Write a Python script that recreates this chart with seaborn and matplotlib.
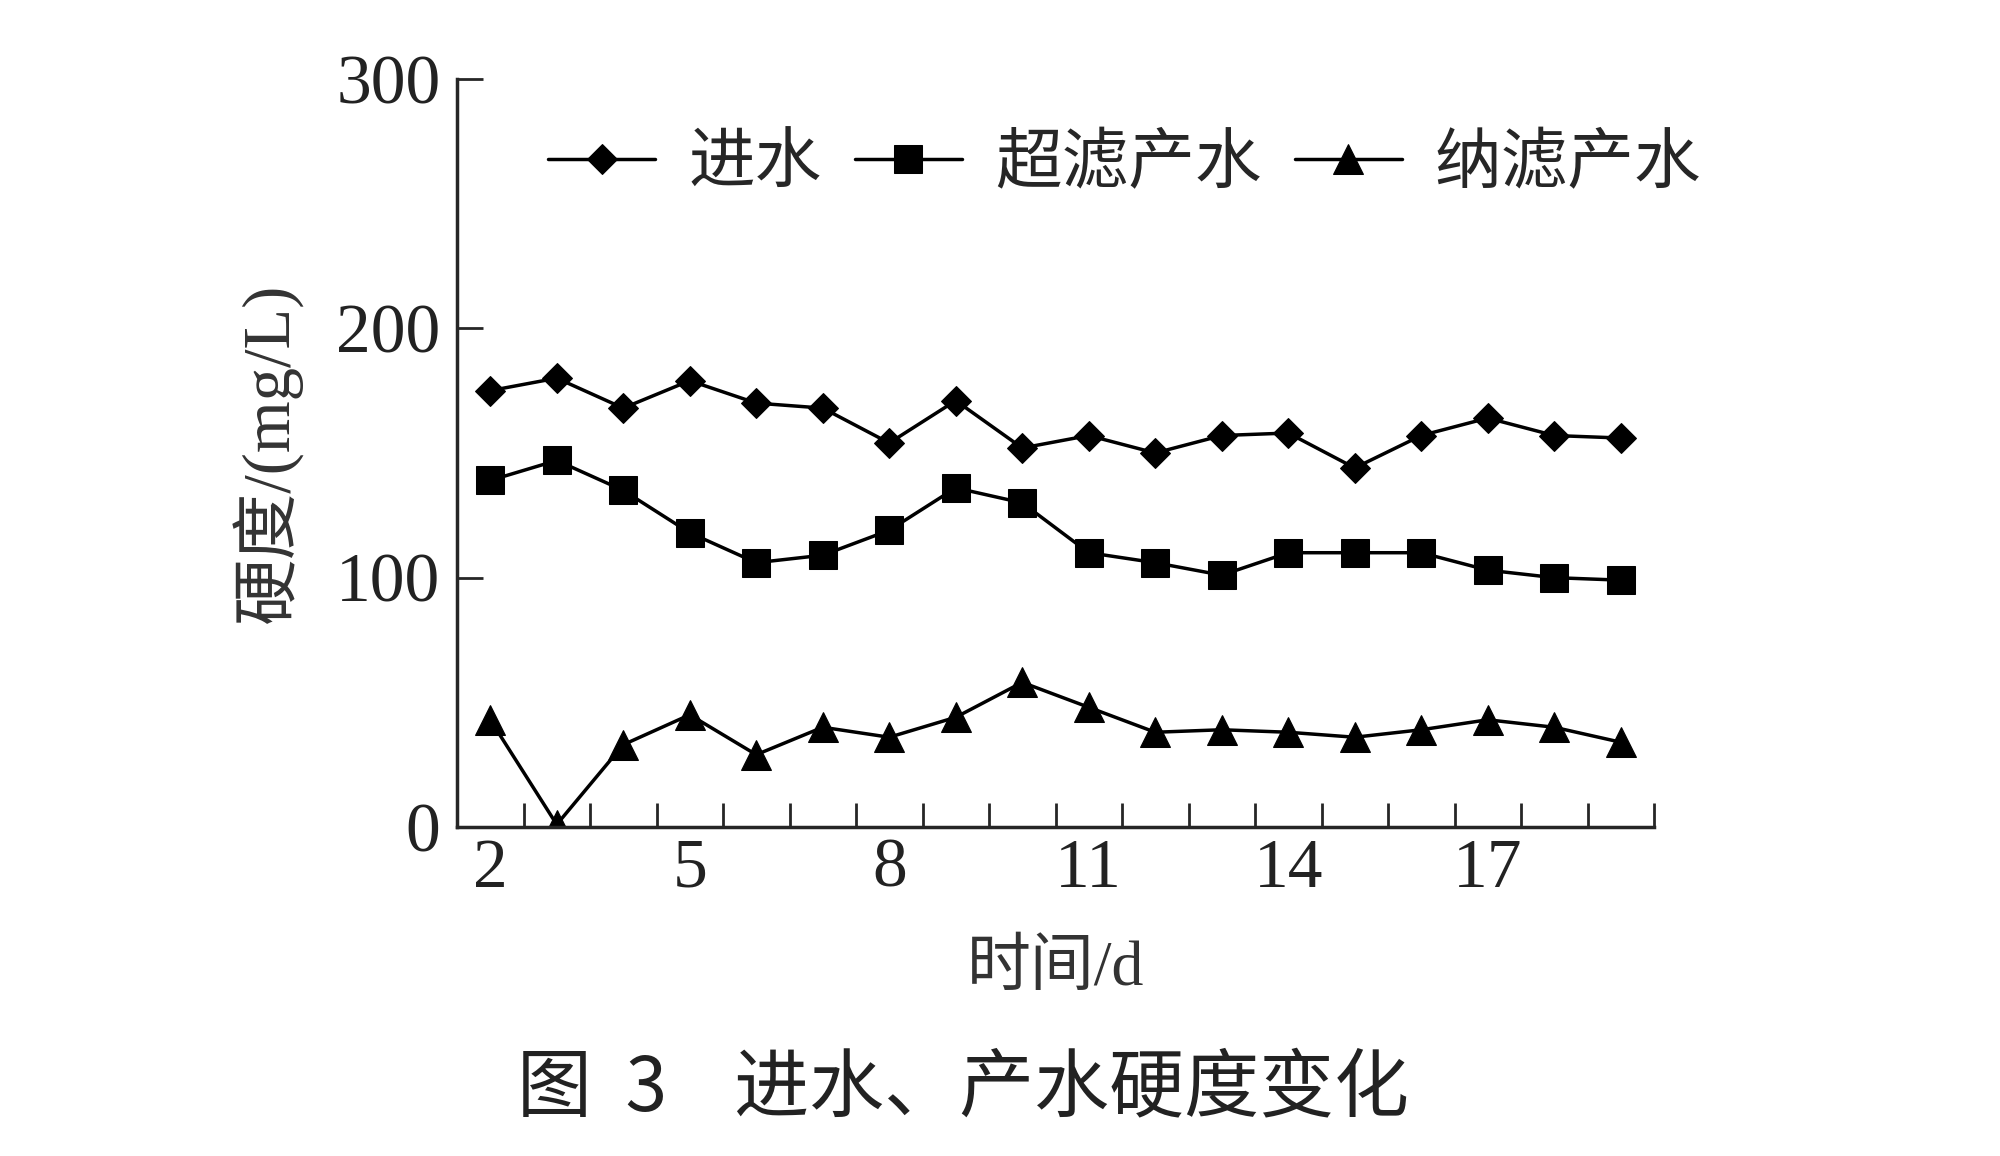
import numpy as np
import pandas as pd
import matplotlib
matplotlib.use("Agg")
import matplotlib.pyplot as plt
import seaborn as sns

# data (hardness, mg/L, per day)
days = list(range(2, 20))
inflow = [175, 180, 168, 179, 170, 168, 154, 171, 152, 157, 150, 157, 158, 144, 157, 164, 157, 156]
uf_out = [139, 147, 135, 118, 106, 109, 119, 136, 130, 110, 106, 101, 110, 110, 110, 103, 100, 99]
nf_out = [43, 1, 33, 45, 29, 40, 36, 44, 58, 48, 38, 39, 38, 36, 39, 43, 40, 34]
series_names = ["进水", "超滤产水", "纳滤产水"]
x_tick_labels = [2, 5, 8, 11, 14, 17]

sns.set_style("ticks")
plt.rcParams["font.family"] = ["Liberation Serif", "Noto Sans CJK SC"]

df = pd.DataFrame({"day": days, series_names[0]: inflow,
                   series_names[1]: uf_out, series_names[2]: nf_out})

fig = plt.figure(figsize=(20, 11.56), dpi=100)
ax = fig.add_axes([0.2285, 0.2846, 0.5985, 0.6471])

markers = {"进水": ("D", 15), "超滤产水": ("s", 20), "纳滤产水": ("^", 21)}
for name in series_names:
    m, ms = markers[name]
    sns.lineplot(data=df, x="day", y=name, ax=ax, color="black", lw=2.5,
                 marker=m, markersize=ms, markeredgecolor="black", label=name)

ax.set_xlim(1.5, 19.5)
ax.set_ylim(0, 300)
ax.set_xticks(x_tick_labels)
ax.set_xticklabels([str(v) for v in x_tick_labels])
ax.set_xticks(np.arange(2.5, 20, 1), minor=True)
ax.tick_params(axis="x", which="major", length=0, labelsize=50, pad=8)
ax.tick_params(axis="x", which="minor", direction="in", length=17, width=2)
ax.set_yticks([0, 100, 200, 300])
ax.tick_params(axis="y", direction="in", length=19, width=2, labelsize=50, pad=12)
for lab in ax.get_xticklabels() + ax.get_yticklabels():
    lab.set_color("#222222")

sns.despine(ax=ax)
for s in ("left", "bottom"):
    ax.spines[s].set_linewidth(2.5)

ax.set_xlabel("时间/d", fontsize=46, labelpad=28, color="#333333")
ax.set_ylabel("硬度/(mg/L)", fontsize=48, labelpad=24, color="#333333")

ax.legend(loc="center", bbox_to_anchor=(0.558, 0.884), ncol=3, frameon=False,
          fontsize=48, handlelength=1.6, columnspacing=0.5, handletextpad=0.5,
          markerscale=1.0)

fig.text(0.4815, 0.058, "图  3    进水、产水硬度变化", ha="center", va="center",
         fontsize=54, fontweight="medium", family=["Noto Sans CJK SC", "DejaVu Sans"],
         color="#222222")

fig.savefig("out.png", dpi=100, facecolor="white")
